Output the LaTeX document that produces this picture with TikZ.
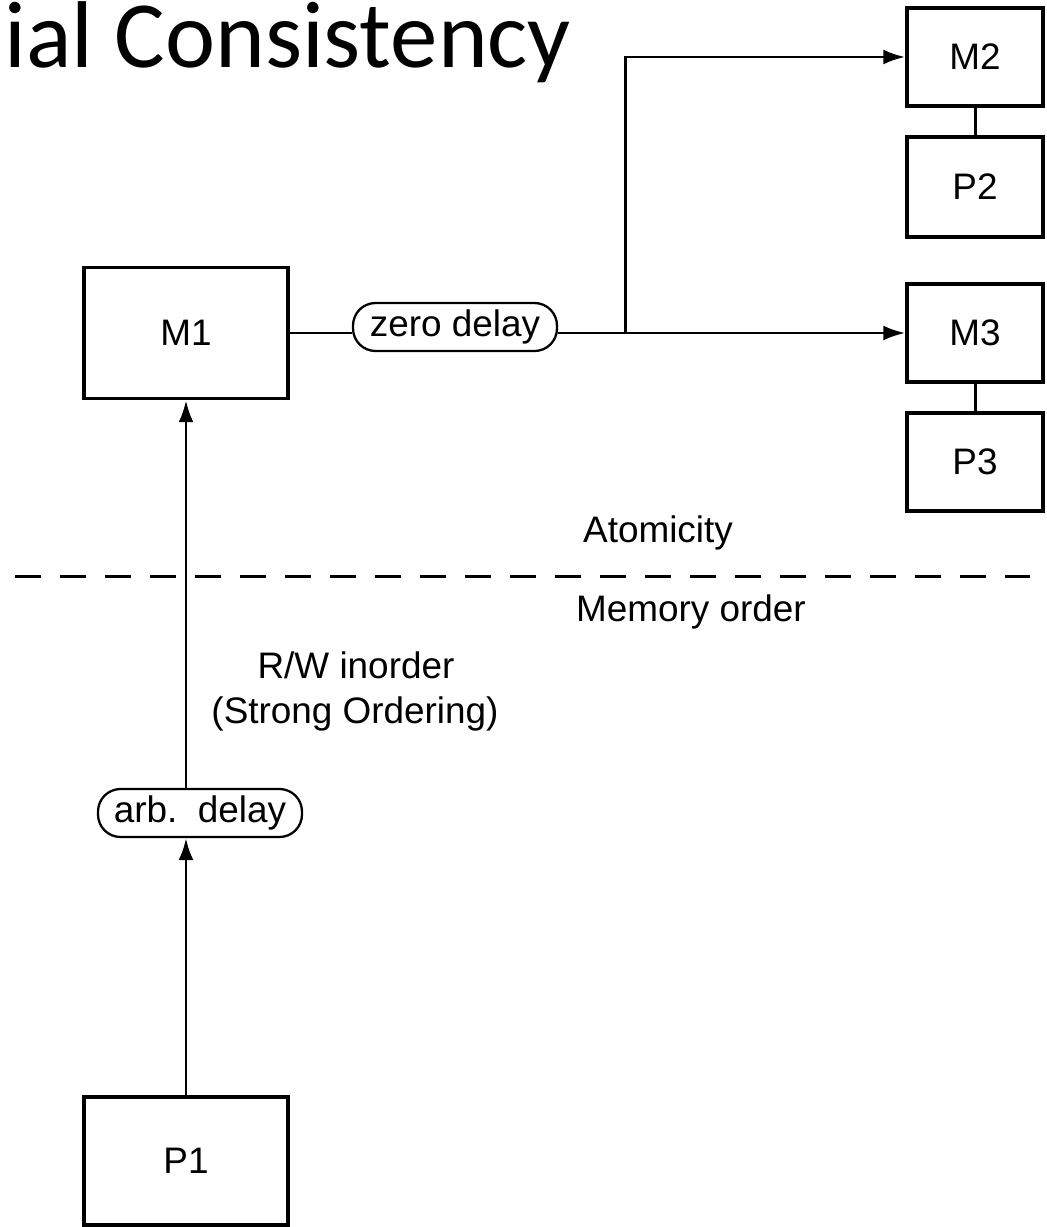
\documentclass[tikz,border=0pt]{standalone}
\usepackage{fontspec}
\setmainfont{Liberation Sans}
\newfontfamily\titlefont{Carlito}
\usetikzlibrary{arrows.meta,positioning}
\newcommand{\labelsize}{\fontsize{21}{25}\selectfont}
\tikzset{
  unit/.style={draw=black,line width=2pt,inner sep=0pt,align=center,font=\labelsize},
  membox/.style={unit,minimum width=4.08cm,minimum height=2.62cm},
  sidebox/.style={unit,minimum width=2.72cm,minimum height=1.96cm},
  delay/.style={draw=black,line width=1.3pt,rounded corners=4.5mm,inner sep=0pt,
                minimum width=4.08cm,minimum height=0.96cm,font=\labelsize},
  link/.style={draw=black,line width=1.7pt},
  flow/.style={-{Latex[length=4.4mm,width=3mm]},draw=black,line width=1.7pt}
}

\begin{document}
\begin{tikzpicture}[
  x=0.02cm,y=-0.02cm,
  note/.style={inner sep=0pt,font=\labelsize,align=center},
  divider/.style={draw=black,line width=1.7pt,dash pattern=on 5.2mm off 3.8mm}
]
  \useasboundingbox (0,0) rectangle (1047,1227);
  \node[anchor=base west,inner sep=0pt,font=\titlefont\fontsize{54}{58}\selectfont]
    (title) at (4,67) {ial Consistency};
  % left column
  \node[membox] (m1) at (186,333) {M1};
  \node[membox,minimum height=2.56cm] (p1) at (186,1161) {P1};
  \node[delay] (zero) at (455,327) {zero delay};
  \node[delay] (arb) at (200,813) {arb.\ \ delay};
  % right column
  \node[sidebox] (m2) at (975,57) {M2};
  \node[sidebox,minimum height=2cm] (p2) at (975,187) {P2};
  \node[sidebox] (m3) at (975,333) {M3};
  \node[sidebox] (p3) at (975,462) {P3};
  % labels
  \node[note] (atom) at (658,533) {Atomicity};
  \node[note] (memord) at (691,612) {Memory order};
  \node[note] (rw) at (356,665) {R/W inorder};
  \node[note] (strong) at (355,714) {(Strong Ordering)};
  \draw[divider] (15,576) -- (1030,576);
  % connectors
  \coordinate (split) at (625,333);
  \draw[link] (m1.east) -- (m1.east -| zero.west);
  \draw[flow] (zero.east |- m1.east) -- (m3.west);
  \draw[flow] (split) |- (m2.west);
  \foreach \a/\b in {m2/p2,m3/p3}
    \draw[link] (\a) -- (\b);
  \draw[flow] (p1.north) -- (p1.north |- arb.south);
  \draw[flow] (p1.north |- arb.north) -- (m1.south);
\end{tikzpicture}
\end{document}
